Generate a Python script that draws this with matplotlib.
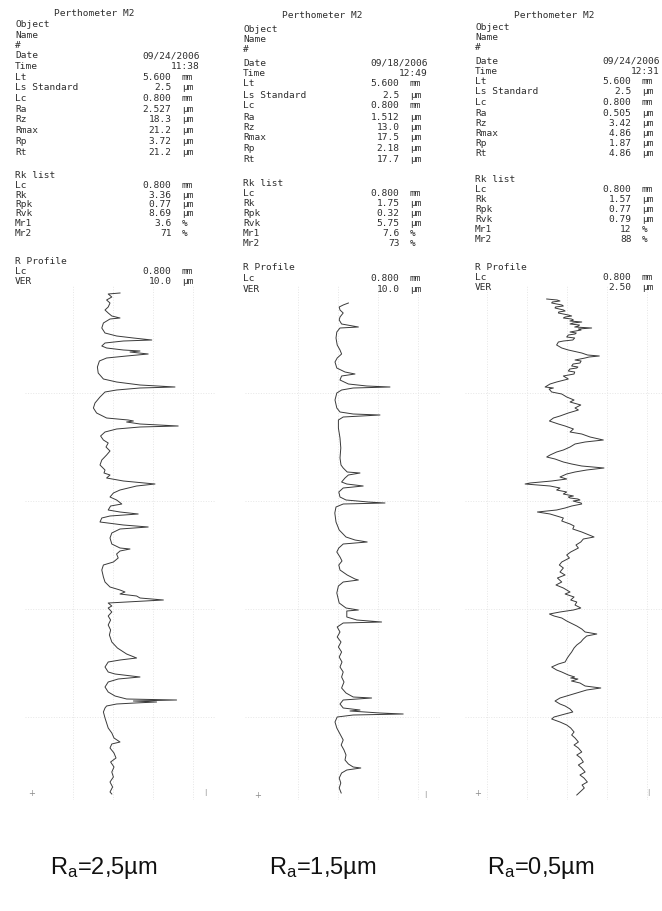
import numpy as np
import matplotlib
matplotlib.use("Agg")
import matplotlib.pyplot as plt

plt.rcParams['mathtext.default'] = 'regular'

W, H = 662, 911

# ---------------- data ----------------
instrument = "Perthometer M2"
dates = ["09/24/2006", "09/18/2006", "09/24/2006"]
times = ["11:38", "12:49", "12:31"]
Lt_vals = ["5.600", "5.600", "5.600"]
Ls_vals = ["2.5", "2.5", "2.5"]
Lc_vals = ["0.800", "0.800", "0.800"]
Ra_vals = ["2.527", "1.512", "0.505"]
Rz_vals = ["18.3", "13.0", "3.42"]
Rmax_vals = ["21.2", "17.5", "4.86"]
Rp_vals = ["3.72", "2.18", "1.87"]
Rt_vals = ["21.2", "17.7", "4.86"]
Rk_vals = ["3.36", "1.75", "1.57"]
Rpk_vals = ["0.77", "0.32", "0.77"]
Rvk_vals = ["8.69", "5.75", "0.79"]
Mr1_vals = ["3.6", "7.6", "12"]
Mr2_vals = ["71", "73", "88"]
VER_vals = ["10.0", "10.0", "2.50"]
caption_ra = ["2,5", "1,5", "0,5"]

# profile 1 (Ra 2.5): position along trace (mm), height (um)
pos1 = [0.18, 0.19, 0.22, 0.25, 0.28, 0.32, 0.35, 0.38, 0.41, 0.43, 0.44, 0.48, 0.53, 0.58,
        0.61, 0.63, 0.65, 0.66, 0.68, 0.71, 0.73, 0.75, 0.76, 0.77, 0.79, 0.81, 0.83, 0.86,
        0.92, 0.98, 1.04, 1.07, 1.10, 1.12, 1.13, 1.15, 1.17, 1.22, 1.28, 1.33, 1.38, 1.43,
        1.45, 1.46, 1.47, 1.49, 1.51, 1.52, 1.54, 1.57, 1.61, 1.65, 1.68, 1.72, 1.76, 1.80,
        1.85, 1.90, 1.95, 1.98, 2.00, 2.03, 2.06, 2.09, 2.11, 2.15, 2.18, 2.22, 2.25, 2.29,
        2.31, 2.35, 2.37, 2.39, 2.41, 2.43, 2.47, 2.50, 2.52, 2.54, 2.58, 2.63, 2.69, 2.73,
        2.74, 2.76, 2.79, 2.83, 2.87, 2.90, 2.95, 3.02, 3.07, 3.12, 3.15, 3.17, 3.19, 3.21,
        3.23, 3.25, 3.27, 3.28, 3.31, 3.33, 3.37, 3.41, 3.45, 3.50, 3.55, 3.60, 3.67, 3.73,
        3.79, 3.83, 3.85, 3.87, 3.92, 3.97, 3.99, 4.02, 4.04, 4.07, 4.12, 4.17, 4.21, 4.24,
        4.25, 4.26, 4.27, 4.28, 4.29, 4.31, 4.33, 4.37, 4.43, 4.48, 4.53, 4.58, 4.63, 4.67,
        4.69, 4.73, 4.78, 4.83, 4.87, 4.92, 4.97, 5.02, 5.07, 5.12, 5.17, 5.19]
z1 = [3.75, 0.8, 1.7, 0.4, 1.25, 0.8, 0.0, 0.8, 1.7, 3.75, 1.25, -0.4, -0.8, 0.0,
      2.9, 7.1, 11.7, 4.6, 0.0, -0.8, 0.4, 4.6, 8.75, 6.25, 10.8, 5.4, 0.4, -1.4,
      -1.9, -1.7, -0.4, 2.9, 8.75, 17.5, 8.75, 2.9, 0.0, -1.25, -2.5, -2.9, -2.1, 0.4,
      5.8, 7.1, 5.4, 8.75, 18.3, 8.75, 2.9, 0.0, -1.1, -0.4, 0.8, 0.25, 1.25, 0.4,
      -0.8, -1.25, 0.0, -0.25, 1.25, 0.4, 4.6, 12.5, 7.9, 3.75, 2.1, 1.25, 2.9, 4.2,
      1.4, 0.8, 3.75, 8.3, 1.25, -0.8, -1.25, 4.6, 10.8, 3.75, 1.7, 1.25, 1.7, 3.75,
      6.25, 3.75, 2.9, 3.3, 2.1, -0.4, -0.8, -0.4, 0.0, 1.25, 3.75, 5.0, 3.75, 7.9,
      8.75, 14.6, 5.4, 0.8, 1.7, 0.8, 1.7, 0.8, 1.4, 0.8, 1.4, 1.1, 1.7, 3.1,
      5.4, 7.9, 3.75, 0.8, 0.0, 0.8, 2.5, 8.75, 3.3, 0.8, 0.0, 0.8, 2.5, 5.4,
      17.9, 7.1, 12.9, 7.5, 2.9, 0.4, 0.0, -0.4, 0.0, 0.4, 0.8, 1.7, 2.25, 3.75,
      1.7, 1.25, 2.25, 2.75, 1.4, 2.25, 1.7, 2.1, 1.25, 1.9, 1.25, 1.7]

# profile 2 (Ra 1.5)
pos2 = [0.28, 0.30, 0.32, 0.35, 0.38, 0.42, 0.45, 0.49, 0.52, 0.53, 0.57, 0.63, 0.70, 0.75,
        0.79, 0.83, 0.87, 0.93, 0.97, 0.99, 1.01, 1.05, 1.09, 1.11, 1.12, 1.13, 1.15, 1.18,
        1.25, 1.33, 1.37, 1.39, 1.40, 1.42, 1.45, 1.53, 1.63, 1.73, 1.83, 1.90, 1.93, 1.97,
        1.98, 2.00, 2.03, 2.07, 2.09, 2.11, 2.13, 2.17, 2.22, 2.25, 2.27, 2.28, 2.29, 2.32,
        2.38, 2.47, 2.55, 2.62, 2.65, 2.67, 2.69, 2.73, 2.77, 2.82, 2.86, 2.90, 2.95, 3.00,
        3.04, 3.05, 3.07, 3.11, 3.18, 3.28, 3.33, 3.35, 3.36, 3.42, 3.45, 3.47, 3.48, 3.52,
        3.57, 3.62, 3.67, 3.72, 3.77, 3.82, 3.87, 3.92, 3.97, 4.02, 4.07, 4.13, 4.18, 4.22,
        4.23, 4.25, 4.29, 4.33, 4.35, 4.36, 4.38, 4.39, 4.40, 4.42, 4.47, 4.53, 4.59, 4.65,
        4.70, 4.75, 4.80, 4.85, 4.89, 4.92, 4.93, 4.95, 4.98, 5.03, 5.08, 5.13, 5.18]
z2 = [2.6, 1.3, 0.3, 0.5, 1.3, 0.5, 0.3, 0.9, 5.1, 0.5, -0.3, -0.5, -0.2, 0.5,
      0.9, -0.2, -0.75, -0.3, 1.75, 4.25, 0.9, 0.5, 2.6, 7.2, 13.0, 3.8, 0.9, -0.3,
      -0.75, -0.3, 0.5, 3.8, 10.5, 1.3, 0.1, 0.1, 0.5, 0.7, 0.5, 0.75, 1.3, 2.3,
      5.5, 2.6, 1.75, 0.9, 2.2, 6.3, 1.3, 0.2, 0.5, 2.0, 7.6, 11.75, 1.3, -0.5,
      -0.8, -0.5, 0.3, 2.0, 4.25, 7.3, 1.3, 0.2, -0.3, 0.5, 1.0, 0.2, 0.5, 2.3,
      4.25, 5.1, 1.3, 0.1, -0.3, 0.3, 2.0, 5.1, 2.2, 2.2, 4.7, 10.9, 1.3, -0.2,
      0.5, -0.2, 0.75, 0.1, 0.9, 0.3, 1.0, 0.5, 1.3, 0.9, 1.5, 0.9, 2.0, 3.8,
      8.4, 1.3, 0.5, 1.3, 5.5, 3.0, 10.5, 16.3, 3.8, -0.2, -0.75, -0.3, 0.5, 1.3,
      0.8, 1.5, 2.0, 1.75, 2.6, 3.8, 5.7, 2.2, 0.9, 0.3, 0.7, 0.3, 0.8]

# profile 3 (Ra 0.5)
pos3 = [0.24, 0.25, 0.26, 0.27, 0.28, 0.30, 0.31, 0.32, 0.33, 0.35, 0.36, 0.37, 0.38, 0.40,
        0.41, 0.42, 0.43, 0.44, 0.45, 0.46, 0.47, 0.48, 0.49, 0.50, 0.51, 0.52, 0.53, 0.54,
        0.55, 0.57, 0.58, 0.59, 0.60, 0.62, 0.63, 0.65, 0.66, 0.67, 0.70, 0.73, 0.75, 0.78,
        0.80, 0.81, 0.82, 0.83, 0.85, 0.86, 0.88, 0.89, 0.91, 0.92, 0.93, 0.94, 0.96, 0.97,
        0.99, 1.01, 1.04, 1.07, 1.09, 1.12, 1.13, 1.14, 1.17, 1.19, 1.22, 1.25, 1.27, 1.30,
        1.33, 1.35, 1.38, 1.41, 1.43, 1.46, 1.49, 1.51, 1.54, 1.57, 1.59, 1.62, 1.65, 1.67,
        1.69, 1.72, 1.75, 1.77, 1.80, 1.82, 1.84, 1.87, 1.89, 1.91, 1.93, 1.95, 1.97, 1.99,
        2.02, 2.04, 2.06, 2.08, 2.09, 2.11, 2.13, 2.15, 2.17, 2.19, 2.21, 2.22, 2.23, 2.24,
        2.25, 2.26, 2.27, 2.28, 2.29, 2.31, 2.33, 2.35, 2.37, 2.39, 2.41, 2.43, 2.46, 2.49,
        2.51, 2.54, 2.57, 2.59, 2.62, 2.64, 2.67, 2.70, 2.73, 2.77, 2.80, 2.83, 2.87, 2.90,
        2.93, 2.97, 3.00, 3.03, 3.07, 3.10, 3.13, 3.17, 3.19, 3.22, 3.25, 3.27, 3.30, 3.33,
        3.35, 3.37, 3.39, 3.41, 3.43, 3.46, 3.49, 3.51, 3.54, 3.57, 3.59, 3.61, 3.64, 3.67,
        3.70, 3.73, 3.77, 3.80, 3.83, 3.87, 3.89, 3.92, 3.95, 3.97, 4.00, 4.02, 4.03, 4.04,
        4.05, 4.06, 4.08, 4.11, 4.13, 4.15, 4.18, 4.21, 4.23, 4.26, 4.29, 4.31, 4.34, 4.37,
        4.39, 4.42, 4.44, 4.47, 4.50, 4.53, 4.57, 4.60, 4.63, 4.67, 4.70, 4.73, 4.77, 4.80,
        4.83, 4.87, 4.90, 4.93, 4.97, 5.00, 5.03, 5.07, 5.10, 5.13, 5.17, 5.20]
z3 = [-1.25, -0.6, -0.42, -0.9, -0.94, -0.3, -0.21, -0.7, -0.73, -0.2, -0.10, -0.5, -0.52, 0.1,
      0.31, -0.1, -0.21, 0.3, 0.42, 0.2, 0.94, 0.4, 0.21, 0.8, 0.73, 0.5, 1.56, 0.73,
      0.9, 0.21, 0.6, 0.52, 0.1, 0.0, 0.5, 0.38, -0.2, -0.52, -0.63, -0.31, 0.10, 0.94,
      1.3, 2.04, 1.4, 1.15, 0.52, 0.9, 0.83, 0.4, 0.31, 0.7, 0.63, 0.2, 0.10, 0.5,
      0.46, -0.21, 0.10, -0.63, -1.04, -1.35, -0.83, -1.1, -0.94, -0.31, 0.0, 0.46, 0.21, 0.88,
      0.52, 0.73, 0.10, -0.42, -0.83, -1.08, -0.52, -0.10, 0.42, 0.21, 0.94, 1.46, 2.29, 1.15,
      0.52, 0.21, -0.21, -0.63, -1.04, -1.25, -0.73, -0.21, 0.31, 0.94, 2.33, 1.25, 0.52, 0.0,
      -0.42, 0.0, -0.94, -2.29, -2.60, -1.04, -0.42, -0.63, 0.0, -0.21, 0.42, 0.1, 0.21, 0.7,
      0.83, 0.4, 0.63, 0.9, 0.94, 0.31, -0.10, -0.63, -1.83, -1.04, -0.63, -0.21, -0.31, 0.21,
      0.46, 0.38, 0.94, 1.25, 1.71, 1.04, 0.88, 0.58, 0.73, 0.25, 0.0, 0.17, -0.31, -0.46,
      -0.21, -0.42, -0.10, -0.58, -0.31, -0.67, -0.21, 0.21, -0.10, 0.46, 0.25, 0.63, 0.52, 0.88,
      0.42, -0.42, -1.08, -0.79, -0.31, 0.0, 0.38, 0.63, 0.94, 1.15, 1.88, 1.25, 1.04, 0.88,
      0.63, 0.46, 0.31, 0.17, 0.04, -0.10, -0.52, -0.94, -0.63, -0.31, 0.10, 0.5, 0.25, 0.7,
      0.52, 0.3, 0.83, 1.15, 2.13, 1.25, 0.63, 0.0, -0.42, -0.73, -0.42, -0.10, 0.21, 0.38,
      -0.10, -0.79, -0.94, -0.42, 0.0, 0.25, 0.46, 0.31, 0.52, 0.73, 0.46, 0.73, 0.94, 0.63,
      0.88, 1.04, 0.73, 0.94, 1.15, 0.83, 1.08, 1.29, 0.96, 1.10, 0.83, 0.63]

profiles = [(pos1, z1), (pos2, z2), (pos3, z3)]

# ---------------- layout / style ----------------
fig = plt.figure(figsize=(W / 100, H / 100), dpi=100)
TXT = '#2e2e2e'
MONO = 'DejaVu Sans Mono'
FS = 6.8


def fx(x):
    return x / W


def fy(y):
    return 1 - y / H


def panel_rows(i):
    # (label, value, unit); value right aligned, unit after it
    top = [("title",), ("Object", "", ""), ("Name", "", ""), ("#", "", ""),
           ("Date", dates[i], None), ("Time", times[i], None),
           ("Lt", Lt_vals[i], "mm"), ("Ls Standard", Ls_vals[i], "µm"),
           ("Lc", Lc_vals[i], "mm"), ("Ra", Ra_vals[i], "µm"),
           ("Rz", Rz_vals[i], "µm"), ("Rmax", Rmax_vals[i], "µm"),
           ("Rp", Rp_vals[i], "µm"), ("Rt", Rt_vals[i], "µm")]
    rk = [("Rk list", "", ""), ("Lc", Lc_vals[i], "mm"), ("Rk", Rk_vals[i], "µm"),
          ("Rpk", Rpk_vals[i], "µm"), ("Rvk", Rvk_vals[i], "µm"),
          ("Mr1", Mr1_vals[i], "%"), ("Mr2", Mr2_vals[i], "%")]
    rp = [("R Profile", "", ""), ("Lc", Lc_vals[i], "mm"), ("VER", VER_vals[i], "µm")]
    return top + rk + rp


text_left = [15, 243, 475]
row_y = [
    [13, 23.5, 34, 44.5, 55, 65.5, 76, 87, 97.5, 108, 118.5, 129, 140, 151,
     175, 184.5, 194, 203.5, 213, 222.5, 232, 260, 270.5, 281],
    [15, 28, 38.5, 49, 62, 72.5, 83, 94, 105, 116, 127, 137, 147.5, 158,
     182, 192, 202, 212, 222, 232, 242, 267, 277.5, 288],
    [15, 26, 37, 47, 60, 70, 80.5, 91, 101.5, 112, 122, 132, 142, 152,
     178, 188, 198, 208.5, 219, 229, 239, 266, 276.5, 287],
]
CW = 9.35


def put(x, y, s, ha):
    fig.text(fx(x), fy(y + 3.5), s, family=MONO, fontsize=FS, color=TXT,
             ha=ha, va='baseline')


for i in range(3):
    L = text_left[i]
    for r, yc in zip(panel_rows(i), row_y[i]):
        if r[0] == "title":
            put(L + 8.5 * CW, yc, instrument, 'center')
            continue
        label, val, unit = r
        put(L, yc, label, 'left')
        if unit is None:          # date / time: right aligned at last column
            put(L + 20 * CW - 2.5, yc, val, 'right')
        elif val:
            put(L + 17 * CW - 2.5, yc, val, 'right')
            put(L + 18 * CW - 1.5, yc, unit, 'left')

# profile axes
boxes = [(25, 285, 215, 800), (245, 285, 440, 800), (465, 285, 662, 800)]
zero_x = [105, 338, 566.7]
px_per_um = [4, 4, 16]
grid_x = [np.arange(-8, 27, 10), np.arange(-10, 25, 10), np.arange(-5, 5.1, 2.5)]
grid_y = [1.18, 2.26, 3.34, 4.42]
Y0, PX_MM = 275, 100

for i, (pos, z) in enumerate(profiles):
    x0, y0, x1, y1 = boxes[i]
    ax = fig.add_axes([fx(x0), fy(y1), (x1 - x0) / W, (y1 - y0) / H])
    ax.plot(z, pos, color='#3a3a3a', lw=0.7)
    ax.set_xlim((x0 - zero_x[i]) / px_per_um[i], (x1 - zero_x[i]) / px_per_um[i])
    ax.set_ylim((y1 - Y0) / PX_MM, (y0 - Y0) / PX_MM)
    ax.set_xticks(grid_x[i])
    ax.set_yticks(grid_y)
    ax.tick_params(length=0, labelbottom=False, labelleft=False)
    ax.grid(True, color='#e6e6e6', ls=':', lw=0.7)
    for s in ax.spines.values():
        s.set_visible(False)
    ax.patch.set_alpha(0)

# small printer marks at the bottom of each trace
for (xp, yp) in [(32, 793), (258, 795), (478, 793)]:
    fig.text(fx(xp), fy(yp), "+", fontsize=6, color='#8a8a8a', ha='center', va='center')
for (xp, yp) in [(205, 793), (425, 795), (648, 793)]:
    fig.text(fx(xp), fy(yp), "|", fontsize=5, color='#8a8a8a', ha='center', va='center')

# captions
cap_x = [104, 323, 541]
for i in range(3):
    fig.text(fx(cap_x[i]), fy(868), f"R$_a$={caption_ra[i]}µm",
             family='Liberation Sans', fontsize=17, color='#111111',
             ha='center', va='center')

fig.savefig("out.png", dpi=100)
